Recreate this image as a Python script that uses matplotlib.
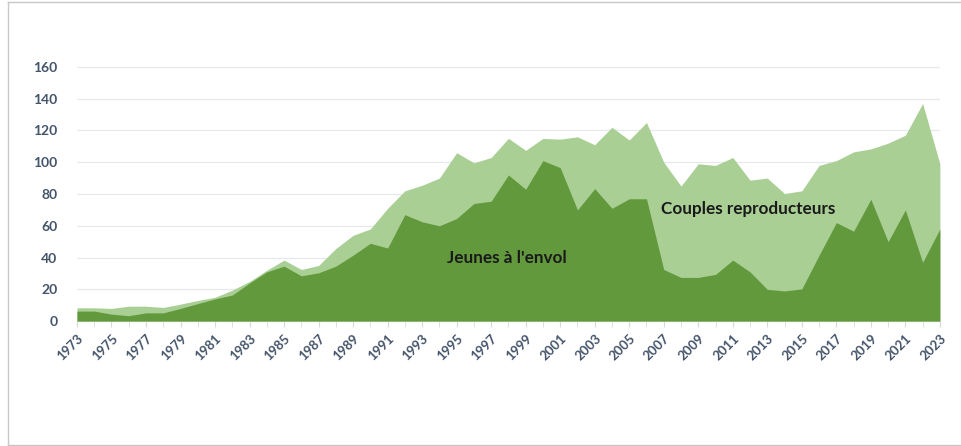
import matplotlib.pyplot as plt
from matplotlib.lines import Line2D

years = list(range(1973, 2024))
couples = [8.4, 8.4, 8, 9.4, 9.4, 8.6, 10.7, 13, 15, 19.5, 25, 32, 38.4, 32.5, 35,
           45.7, 54, 58, 71, 82, 85.5, 90, 106, 99.6, 103, 115, 107.5, 115, 114.5, 116,
           111, 122, 114, 125, 100, 85, 99, 98, 103, 88.7, 90, 80.3, 82, 98, 101,
           106.5, 108.4, 112, 117, 137, 99]
jeunes = [6.3, 6.3, 4.4, 3.4, 5.2, 5.2, 8, 11, 14, 16.4, 24, 31, 34.6, 28.5, 30.4,
          34.6, 41.5, 49, 46, 67, 62.5, 60, 64.6, 74, 75.5, 92, 83, 101, 96.6, 70,
          83.4, 71, 77, 77, 32.5, 27.5, 27.5, 29.4, 38.4, 31, 20, 19, 20.3, 41.5, 62,
          56.6, 76.7, 50, 70, 37, 58]
y_ticks = [0, 20, 40, 60, 80, 100, 120, 140, 160]
x_labels = [str(y) for y in years[::2]]

plt.rcParams['font.family'] = ['Lato', 'DejaVu Sans']
tick_color = '#44546a'

fig = plt.figure(figsize=(9.62, 4.46), dpi=100)
ax = fig.add_axes([0.080, 0.280, 0.897, 0.570])

ax.fill_between(years, 0, couples, color='#a9cf95', linewidth=0, zorder=2)
ax.fill_between(years, 0, jeunes, color='#62993d', linewidth=0, zorder=3)

ax.set_xlim(years[0], years[-1])
ax.set_ylim(0, 160)
ax.set_yticks(y_ticks)
ax.set_yticklabels([str(v) for v in y_ticks], fontsize=10, fontweight='bold', color=tick_color)
ax.set_xticks(years[::2])
ax.set_xticks(years, minor=True)
ax.set_xticklabels(x_labels, rotation=45, ha='right', rotation_mode='anchor',
                   fontsize=9.5, fontweight='bold', color=tick_color)
ax.tick_params(axis='y', length=0, pad=14)
ax.tick_params(axis='x', which='both', length=4, color='#d9d9d9', pad=4)
ax.grid(axis='y', color='#e6e8ee', linewidth=0.9, zorder=0)
for s in ['top', 'right', 'left']:
    ax.spines[s].set_visible(False)
ax.spines['bottom'].set_color('#d9d9d9')
ax.set_axisbelow(True)

ax.text(1997.9, 40, "Jeunes à l'envol", fontsize=12.3, fontweight='bold',
        color='#1a1a1a', ha='center', va='center', zorder=5)
ax.text(2011.9, 70.5, "Couples reproducteurs", fontsize=12.3, fontweight='bold',
        color='#1a1a1a', ha='center', va='center', zorder=5)

# light frame around the picture
border = '#c8c8c8'
fig.add_artist(Line2D([0.008, 0.008], [0.0, 0.995], color=border, lw=1))
fig.add_artist(Line2D([0.008, 1.0], [0.995, 0.995], color=border, lw=1))
fig.add_artist(Line2D([0.008, 1.0], [0.002, 0.002], color=border, lw=1))

fig.savefig('out.png', dpi=100)
